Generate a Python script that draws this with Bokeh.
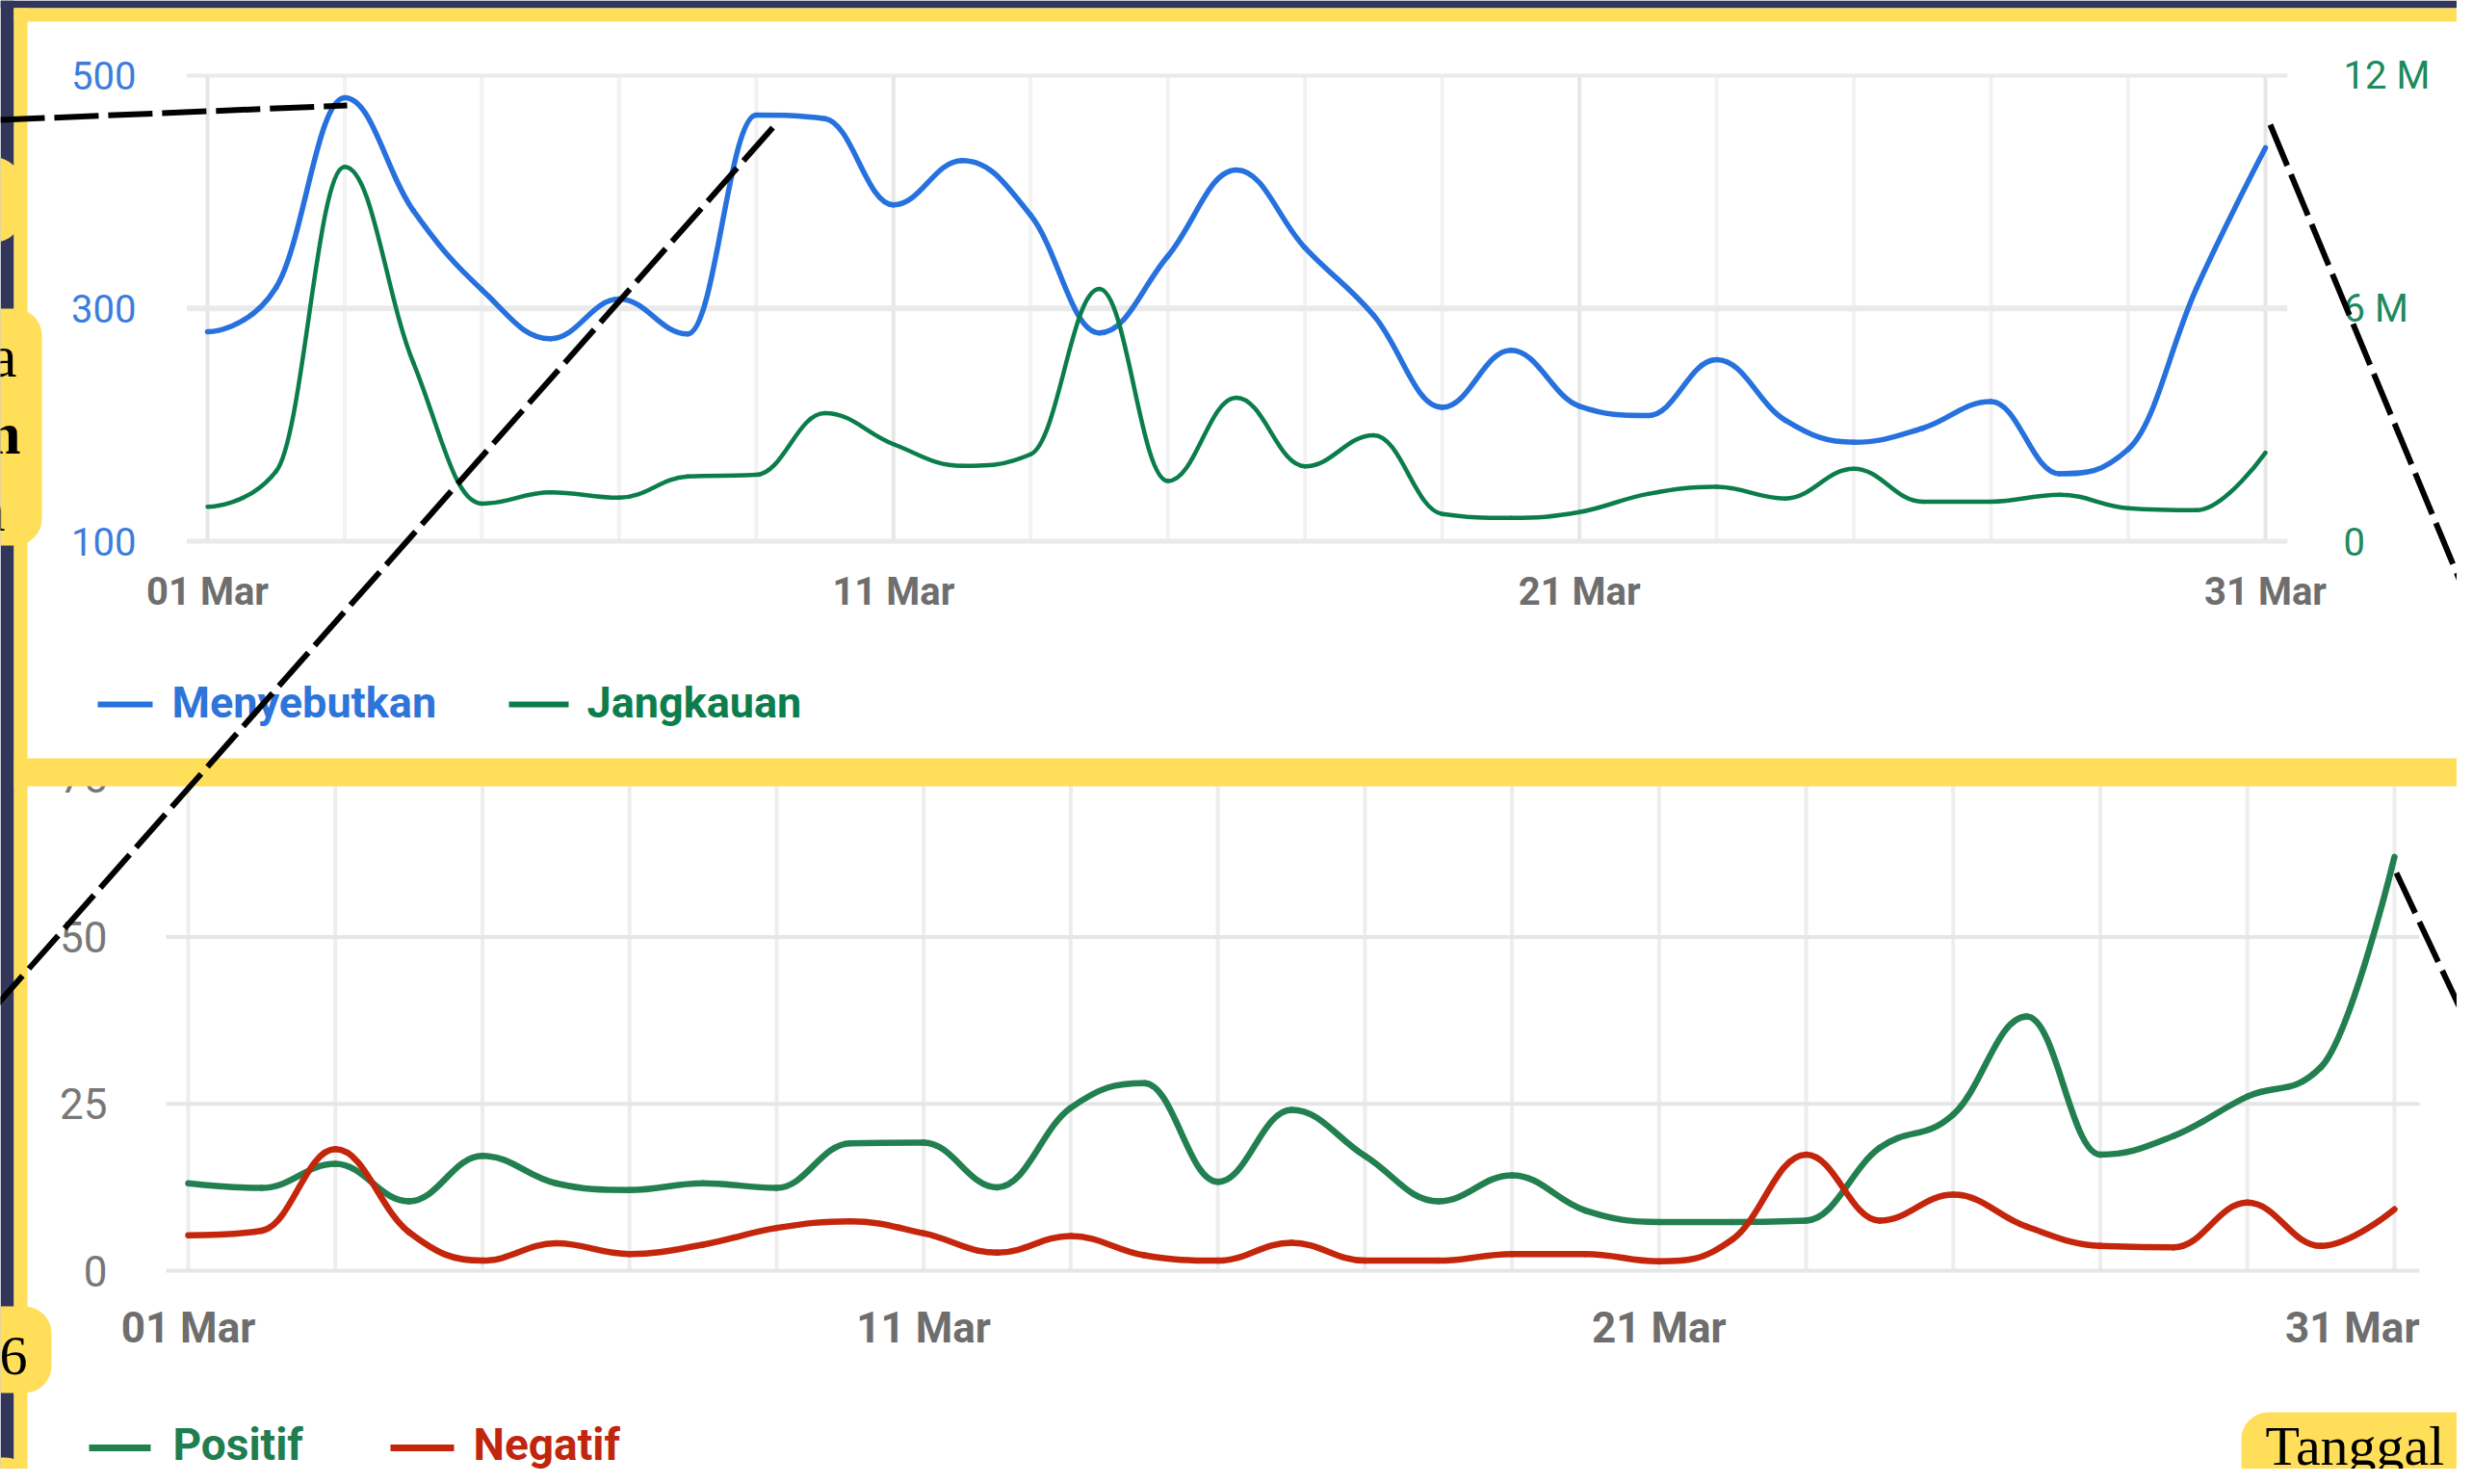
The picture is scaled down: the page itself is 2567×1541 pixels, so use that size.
import numpy as np
from bokeh.plotting import figure
from bokeh.models import Range1d, ColumnDataSource
from bokeh.core.properties import value
from bokeh.embed import file_html
from bokeh.resources import INLINE

# ---------------- data ----------------
days = list(range(1, 32))
menyebutkan = [280, 318, 481, 384, 316, 274, 308, 278, 466, 463,
               389, 427, 380, 279, 345, 419, 352, 294, 215, 264,
               216, 208, 256, 204, 185, 197, 220, 158, 179, 318, 438]
jangkauan_m = [0.89, 1.8, 9.65, 4.6, 0.97, 1.26, 1.12, 1.67, 1.71, 3.3,
               2.5, 1.94, 2.24, 6.5, 1.55, 3.7, 1.93, 2.73, 0.7, 0.6,
               0.75, 1.22, 1.4, 1.1, 1.87, 1.02, 1.02, 1.2, 0.85, 0.8, 2.28]
positif = [13.1, 12.4, 16.0, 10.4, 17.2, 13.1, 12.1, 13.1, 12.4, 19.1,
           19.2, 12.5, 24.4, 28.1, 13.3, 24.1, 17.2, 10.4, 14.3, 9.0,
           7.3, 7.3, 7.5, 18.4, 23.4, 38.1, 17.4, 20.2, 26.1, 30.5, 62.0]
negatif = [5.3, 6.0, 18.2, 5.8, 1.5, 4.1, 2.5, 3.9, 6.4, 7.4,
           5.6, 2.7, 5.2, 2.3, 1.5, 4.2, 1.5, 1.5, 2.5, 2.5,
           1.4, 4.7, 17.4, 7.5, 11.4, 6.6, 3.7, 3.5, 10.2, 3.7, 9.2]

x_ticks = [1, 11, 21, 31]
x_tick_labels = ["01 Mar", "11 Mar", "21 Mar", "31 Mar"]
grid_days = list(range(1, 32, 2))
top_left_ticks = [100, 300, 500]
top_left_labels = ["100", "300", "500"]
top_right_ticks = [0, 6, 12]
top_right_labels = ["0", "6 M", "12 M"]
bottom_ticks = [0, 25, 50, 75]
bottom_labels = ["0", "25", "50", "75"]
legend_top = ["Menyebutkan", "Jangkauan"]
legend_bottom = ["Positif", "Negatif"]

# ---------------- colours ----------------
NAVY = "#31365a"
YELLOW = "#ffde59"
BLUE = "#2671dd"
GREEN_T = "#0a7d4a"
GREEN_B = "#227f50"
RED = "#c4260c"
GREY = "#6e6e6e"

W, H = 2551, 1525
X0, X1, Y0, Y1 = 0, W, 0, H   # canvas px of the reference


def lin_range(v1, p1, v2, p2, p_start, p_end):
    k = (v2 - v1) / (p2 - p1)
    return Range1d(start=v1 + (p_start - p1) * k, end=v1 + (p_end - p1) * k)


p = figure(width=W, height=H, output_backend="svg", toolbar_location=None,
           x_range=Range1d(X0, X1), y_range=Range1d(Y1, Y0),
           x_axis_location=None, y_axis_location=None, min_border=0)
p.outline_line_color = None
p.background_fill_color = "white"
p.border_fill_color = "white"
p.xgrid.visible = False
p.ygrid.visible = False

p.extra_x_ranges = {
    "ux": lin_range(1, 215, 31, 2352, X0, X1),
    "lx": lin_range(1, 195, 31, 2486, X0, X1),
}
p.extra_y_ranges = {
    "uy": lin_range(100, 561.5, 500, 78, Y1, Y0),
    "uy2": lin_range(0, 561.5, 12, 78, Y1, Y0),
    "ly": lin_range(0, 1319, 50, 972.5, Y1, Y0),
}


def spline(xs, ys, smoothing=1.5):
    xs = np.asarray(xs, float)
    ys = np.asarray(ys, float)
    n = len(xs)
    lcx, lcy, rcx, rcy = xs.copy(), ys.copy(), xs.copy(), ys.copy()
    d = smoothing + 1
    for i in range(1, n - 1):
        px, py = xs[i], ys[i]
        lx, ly = xs[i - 1], ys[i - 1]
        nx, ny = xs[i + 1], ys[i + 1]
        a_x = (smoothing * px + lx) / d
        a_y = (smoothing * py + ly) / d
        b_x = (smoothing * px + nx) / d
        b_y = (smoothing * py + ny) / d
        corr = 0.0
        if b_x != a_x:
            corr = (b_y - a_y) * (b_x - px) / (b_x - a_x) + py - b_y
        a_y += corr
        b_y += corr
        if a_y > ly and a_y > py:
            a_y = max(ly, py); b_y = 2 * py - a_y
        elif a_y < ly and a_y < py:
            a_y = min(ly, py); b_y = 2 * py - a_y
        if b_y > ny and b_y > py:
            b_y = max(ny, py); a_y = 2 * py - b_y
        elif b_y < ny and b_y < py:
            b_y = min(ny, py); a_y = 2 * py - b_y
        lcx[i], lcy[i], rcx[i], rcy[i] = a_x, a_y, b_x, b_y
    return ColumnDataSource(dict(x0=xs[:-1], y0=ys[:-1], x1=xs[1:], y1=ys[1:],
                                 cx0=rcx[:-1], cy0=rcy[:-1], cx1=lcx[1:], cy1=lcy[1:]))


def curve(xs, ys, color, width, xr, yr):
    p.bezier(x0="x0", y0="y0", x1="x1", y1="y1", cx0="cx0", cy0="cy0",
             cx1="cx1", cy1="cy1", source=spline(xs, ys), line_color=color,
             line_width=width, line_cap="round", x_range_name=xr, y_range_name=yr)


F = value("Roboto")
SERIF = value("Liberation Serif")

# ---------------- upper chart ----------------
lab_col = ["#e6e6e6" if d in x_ticks else "#f2f2f2" for d in grid_days]
p.segment(x0=grid_days, x1=grid_days, y0=[top_left_ticks[0]] * len(grid_days),
          y1=[top_left_ticks[-1]] * len(grid_days), line_color=lab_col, line_width=4,
          x_range_name="ux", y_range_name="uy")
p.segment(x0=[days[0] - 0.3] * 3, x1=[days[-1] + 0.32] * 3, y0=top_left_ticks,
          y1=top_left_ticks, line_color="#eaeaea", line_width=[5, 6, 4],
          x_range_name="ux", y_range_name="uy")
curve(days, menyebutkan, BLUE, 5.5, "ux", "uy")
curve(days, jangkauan_m, GREEN_T, 4.5, "ux", "uy2")

p.text(x=[141] * 3, y=top_left_ticks, text=top_left_labels, text_font=F,
       text_font_size="40px", text_color="#3b7ddd", text_align="right",
       text_baseline="middle", y_range_name="uy")
p.text(x=[2433] * 3, y=top_right_ticks, text=top_right_labels, text_font=F,
       text_font_size="40px", text_color="#1b8a5c", text_align="left",
       text_baseline="middle", y_range_name="uy2")
p.text(x=x_ticks, y=[614] * 4, text=x_tick_labels, text_font=F,
       text_font_size="40px", text_font_style="bold", text_color=GREY,
       text_align="center", text_baseline="middle", x_range_name="ux")

p.segment(x0=[101, 528], x1=[158, 590], y0=[731, 731], y1=[731, 731],
          line_color=[BLUE, GREEN_T], line_width=6)
p.text(x=[178, 609], y=[729, 729], text=legend_top, text_font=F,
       text_font_size="45px", text_font_style="bold",
       text_color=["#2f74d9", "#0c7d4c"], text_baseline="middle")

# ---------------- lower chart ----------------
p.segment(x0=grid_days, x1=grid_days, y0=[0] * len(grid_days), y1=[76] * len(grid_days),
          line_color="#ededed", line_width=4, x_range_name="lx", y_range_name="ly")
p.segment(x0=[days[0] - 0.3] * 4, x1=[days[-1] + 0.34] * 4, y0=bottom_ticks,
          y1=bottom_ticks, line_color="#e6e6e6", line_width=4,
          x_range_name="lx", y_range_name="ly")
curve(days, positif, GREEN_B, 6.5, "lx", "ly")
curve(days, negatif, RED, 6.5, "lx", "ly")

p.text(x=[111] * 3, y=bottom_ticks[:3], text=bottom_labels[:3], text_font=F,
       text_font_size="44px", text_color="#777777", text_align="right",
       text_baseline="middle", y_range_name="ly")
p.text(x=[111], y=bottom_ticks[3:], text=bottom_labels[3:], text_font=F,
       text_font_size="44px", text_color="#777777", text_align="right",
       text_baseline="middle", y_offset=7, y_range_name="ly")
p.text(x=x_ticks[:3], y=[1378] * 3, text=x_tick_labels[:3], text_font=F,
       text_font_size="44px", text_font_style="bold", text_color=GREY,
       text_align="center", text_baseline="middle", x_range_name="lx")
p.text(x=x_ticks[3:], y=[1378], text=x_tick_labels[3:], text_font=F,
       text_font_size="44px", text_font_style="bold", text_color=GREY,
       text_align="right", text_baseline="middle", x_offset=26, x_range_name="lx")

p.segment(x0=[92, 405], x1=[156, 471], y0=[1503, 1503], y1=[1503, 1503],
          line_color=[GREEN_B, RED], line_width=7)
p.text(x=[179, 491], y=[1499, 1499], text=legend_bottom, text_font=F,
       text_font_size="46px", text_font_style="bold",
       text_color=["#1f7d4f", "#c0260e"], text_baseline="middle")

# ---------------- frame & callouts ----------------
p.quad(left=[0, 0], right=[14, 2600], top=[0, 0], bottom=[1600, 8],
       fill_color=NAVY, line_color=None)
p.quad(left=[14, 14, 14], right=[2600, 28, 2600], top=[8, 8, 787], bottom=[22, 1600, 816],
       fill_color=YELLOW, line_color=None)
p.quad(left=[-100, -300, -300, -300, 2327], right=[22, 43, 53, 33, 2800],
       top=[163, 320, 1356, 1513, 1466], bottom=[251, 566, 1446, 1700, 1700],
       fill_color=YELLOW, line_color=None, border_radius=28)
p.text(x=[17, 21, 5], y=[369, 449, 529], text=["a", "n", "a"], text_font=SERIF,
       text_font_size="62px", text_font_style=["normal", "bold", "normal"],
       text_color="black", text_align="right", text_baseline="alphabetic")
p.text(x=[28], y=[1407], text=["6"], text_font=SERIF, text_font_size="58px",
       text_color="black", text_align="right", text_baseline="alphabetic")
p.text(x=[2352], y=[1501], text=["Tanggal"], text_font=SERIF, text_font_size="58px",
       text_color="black", text_align="left", text_baseline="alphabetic")

# dashed pointer lines
p.segment(x0=[0, 802, 2357, 2488], y0=[124, 132, 129, 906],
          x1=[360, -10, 2567, 2567], y1=[109, 1050, 634, 1074],
          line_color="black", line_width=6, line_dash="46 10")

open("out.html", "w").write(file_html(p, INLINE))
